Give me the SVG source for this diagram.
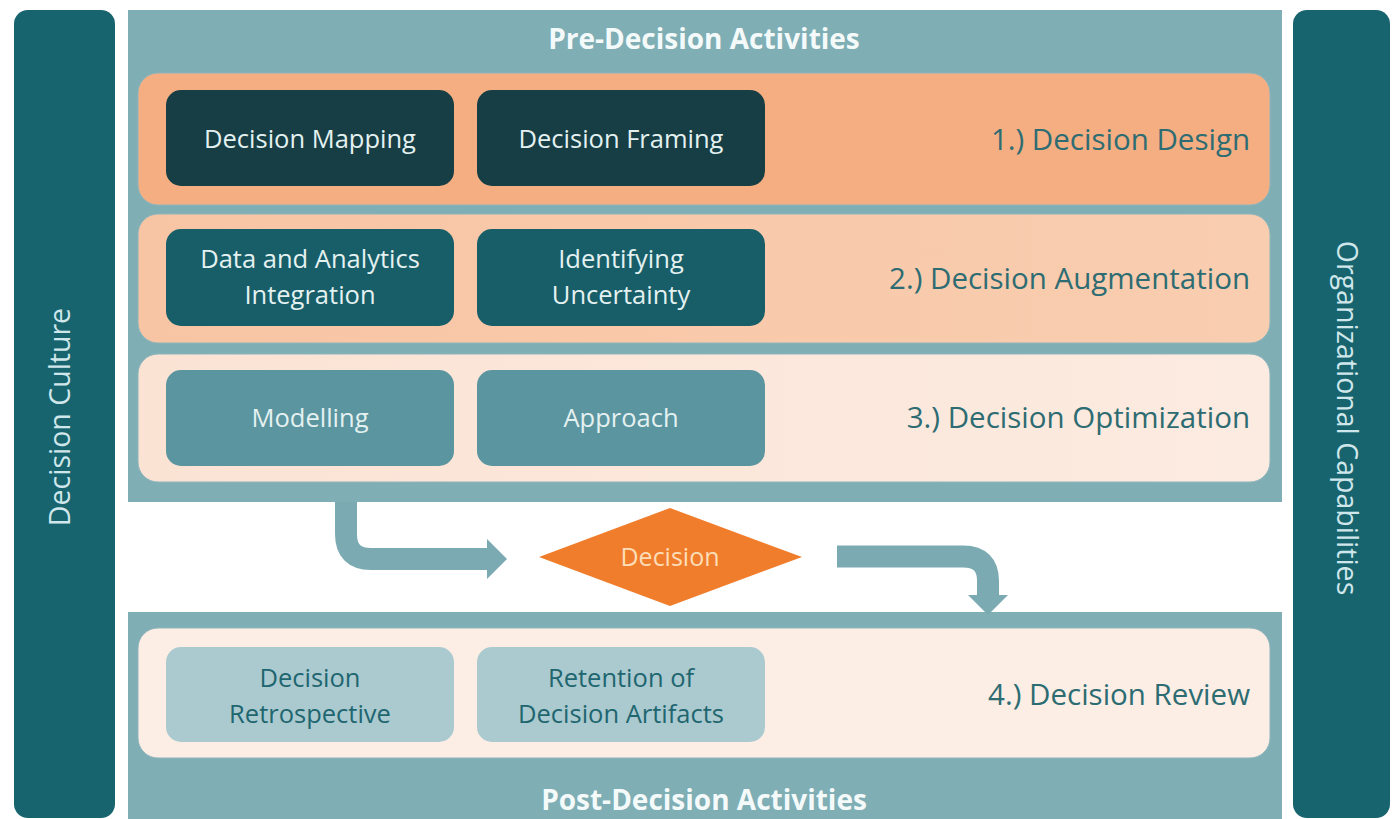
<svg xmlns="http://www.w3.org/2000/svg" width="1397" height="819" viewBox="0 0 1397 819">
  <style>
    text { font-family: "Open Sans", "Noto Sans", "DejaVu Sans", sans-serif; }
    .col { fill: #17636E; }
    .panel { fill: #7FAEB5; }
    .band { stroke: #8FB5BA; stroke-width: 1; }
    .box { stroke: none; }
    .hdr { font-size: 28px; font-weight: 700; fill: #F4FAFA; text-anchor: middle; }
    .side { font-size: 28.5px; fill: #CFE7EB; text-anchor: middle; }
    .lbl { font-size: 29.5px; fill: #2D6C72; text-anchor: end; }
    .bt { font-size: 25.5px; fill: #E4F1F1; text-anchor: middle; }
    .bt4 { font-size: 25.5px; fill: #1F6670; text-anchor: middle; }
    .arrow { fill: none; stroke: #7BAAB2; stroke-width: 22; }
  </style>
  <defs>
    <linearGradient id="g3" x1="0" y1="0" x2="1" y2="0">
      <stop offset="0" stop-color="#FBE3D4"/>
      <stop offset="1" stop-color="#FCEBE1"/>
    </linearGradient>
    <linearGradient id="g2" x1="0" y1="0" x2="1" y2="0">
      <stop offset="0" stop-color="#F8C5A4"/>
      <stop offset="1" stop-color="#F9CDB0"/>
    </linearGradient>
    <marker id="ah" markerUnits="userSpaceOnUse" markerWidth="20" markerHeight="40" viewBox="0 0 20 40" refX="1" refY="20" orient="auto">
      <path d="M0,0 L20,20 L0,40 Z" fill="#7BAAB2"/>
    </marker>
  </defs>

  <rect width="1397" height="819" fill="#FFFFFF"/>

  <g id="decision-culture">
    <rect class="col" x="14" y="10" width="101" height="808" rx="14"/>
    <text class="side" transform="translate(70,417) rotate(-90)">Decision Culture</text>
  </g>
  <g id="organizational-capabilities">
    <rect class="col" x="1293" y="10" width="97" height="808" rx="14"/>
    <text class="side" transform="translate(1337,418) rotate(90)">Organizational Capabilities</text>
  </g>

  <g id="pre-decision">
    <rect class="panel" x="128" y="10" width="1154" height="492"/>
    <text class="hdr" x="704" y="49">Pre-Decision Activities</text>
  </g>
  <g id="post-decision">
    <rect class="panel" x="128" y="612" width="1154" height="210"/>
    <text class="hdr" x="704" y="810">Post-Decision Activities</text>
  </g>

  <g id="decision-design">
    <rect class="band" x="138" y="73" width="1132" height="132" rx="20" fill="#F4AE82"/>
    <text class="lbl" x="1250" y="150">1.) Decision Design</text>
  </g>
  <g id="decision-augmentation">
    <rect class="band" x="138" y="214" width="1132" height="129" rx="20" fill="url(#g2)"/>
    <text class="lbl" x="1250" y="289">2.) Decision Augmentation</text>
  </g>
  <g id="decision-optimization">
    <rect class="band" x="138" y="354" width="1132" height="128" rx="20" fill="url(#g3)"/>
    <text class="lbl" x="1250" y="428">3.) Decision Optimization</text>
  </g>
  <g id="decision-review">
    <rect class="band" x="138" y="628" width="1132" height="130" rx="20" fill="#FCEEE5"/>
    <text class="lbl" x="1250" y="705">4.) Decision Review</text>
  </g>

  <g id="decision-mapping">
    <rect class="box" x="166" y="90" width="288" height="96" rx="15" fill="#163E44"/>
    <text class="bt" x="310" y="148">Decision Mapping</text>
  </g>
  <g id="decision-framing">
    <rect class="box" x="477" y="90" width="288" height="96" rx="15" fill="#163E44"/>
    <text class="bt" x="621" y="148">Decision Framing</text>
  </g>
  <g id="data-analytics">
    <rect class="box" x="166" y="229" width="288" height="97" rx="15" fill="#175E68"/>
    <text class="bt" x="310" y="268">Data and Analytics</text>
    <text class="bt" x="310" y="304">Integration</text>
  </g>
  <g id="identifying-uncertainty">
    <rect class="box" x="477" y="229" width="288" height="97" rx="15" fill="#175E68"/>
    <text class="bt" x="621" y="268">Identifying</text>
    <text class="bt" x="621" y="304">Uncertainty</text>
  </g>
  <g id="modelling">
    <rect class="box" x="166" y="370" width="288" height="96" rx="15" fill="#5B959F"/>
    <text class="bt" x="310" y="427">Modelling</text>
  </g>
  <g id="approach">
    <rect class="box" x="477" y="370" width="288" height="96" rx="15" fill="#5B959F"/>
    <text class="bt" x="621" y="427">Approach</text>
  </g>
  <g id="decision-retrospective">
    <rect class="box" x="166" y="647" width="288" height="95" rx="15" fill="#AACACF"/>
    <text class="bt4" x="310" y="687">Decision</text>
    <text class="bt4" x="310" y="723">Retrospective</text>
  </g>
  <g id="retention-artifacts">
    <rect class="box" x="477" y="647" width="288" height="95" rx="15" fill="#AACACF"/>
    <text class="bt4" x="621" y="687">Retention of</text>
    <text class="bt4" x="621" y="723">Decision Artifacts</text>
  </g>

  <g id="decision">
    <polygon points="539,557 670,508 802,557 670,606" fill="#F07D2C"/>
    <text x="670" y="566" font-size="25px" fill="#FDDDB8" text-anchor="middle">Decision</text>
  </g>

  <g id="connectors">
    <path class="arrow" d="M346,502 V534 Q346,559 371,559 H488" marker-end="url(#ah)"/>
    <path class="arrow" d="M837,556.5 H963 Q988,556.5 988,581 V596" marker-end="url(#ah)"/>
  </g>
</svg>
